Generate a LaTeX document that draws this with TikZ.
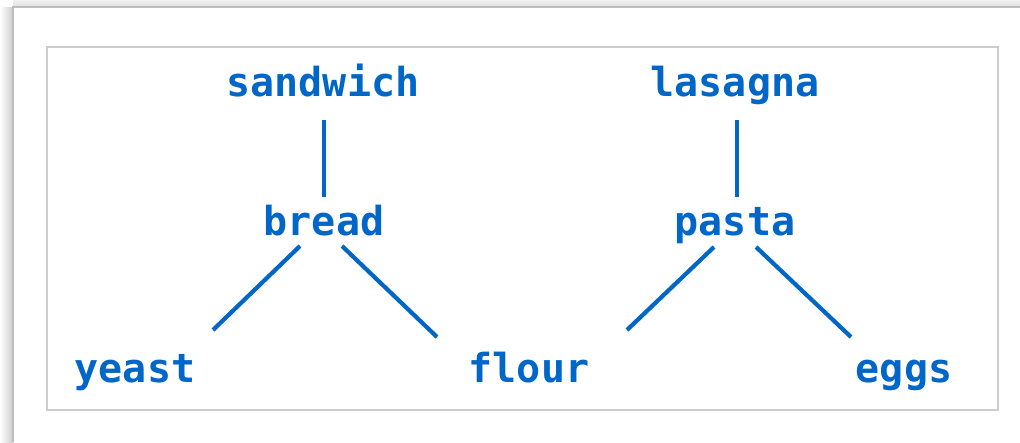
\documentclass[tikz,border=0pt]{standalone}
\usepackage{fontspec}
\setmonofont{DejaVu Sans Mono}
\usetikzlibrary{calc}
\definecolor{treeblue}{HTML}{0066C8}
\definecolor{framegray}{HTML}{BDBDBD}
\definecolor{boxgray}{HTML}{CCCCCC}
\tikzset{
  word/.style={anchor=base, inner sep=0pt, text=treeblue,
    font=\fontsize{40}{44}\selectfont\ttfamily\bfseries},
  branch/.style={draw=treeblue, line width=4.2pt},
}
\begin{document}
\begin{tikzpicture}[x=1pt,y=-1pt]
  \useasboundingbox (0,0) rectangle (1020,442);
  \fill[white] (0,0) rectangle (1020,442);
  % page shadow on the left and top
  \shade[left color=white, right color=black!20] (0,7) rectangle (13,442);
  \shade[top color=black!5, bottom color=black!13] (13,0) rectangle (1020,7);
  \draw[framegray, line width=1.2pt] (13,442) -- (13,7) -- (1020,7);
  % inner panel
  \draw[boxgray, line width=1.6pt] (47,47) rectangle (998,410);

  % words
  \node[word] (sandwich) at (323,96) {sandwich};
  \node[word] (lasagna)  at (735,96) {lasagna};
  \node[word] (bread)    at (324,235) {bread};
  \node[word] (pasta)    at (735,235) {pasta};
  \node[word] (yeast)    at (135,382) {yeast};
  \node[word] (flour)    at (529,382) {flour};
  \node[word] (eggs)     at (904,382) {eggs};

  % branches
  \draw[branch] ($(sandwich.base)+(1,24)$) -- ($(bread.base)+(0,-38)$);
  \draw[branch] ($(lasagna.base)+(2,24)$) -- ($(pasta.base)+(2,-38)$);
  \draw[branch] ($(bread.base)+(-24,11)$) -- ($(yeast.base)+(78,-52)$);
  \draw[branch] ($(bread.base)+(18,11)$) -- ($(flour.base)+(-92,-45)$);
  \draw[branch] ($(pasta.base)+(-21,12)$) -- ($(flour.base)+(98,-52)$);
  \draw[branch] ($(pasta.base)+(21,12)$) -- ($(eggs.base)+(-53,-45)$);
\end{tikzpicture}
\end{document}
